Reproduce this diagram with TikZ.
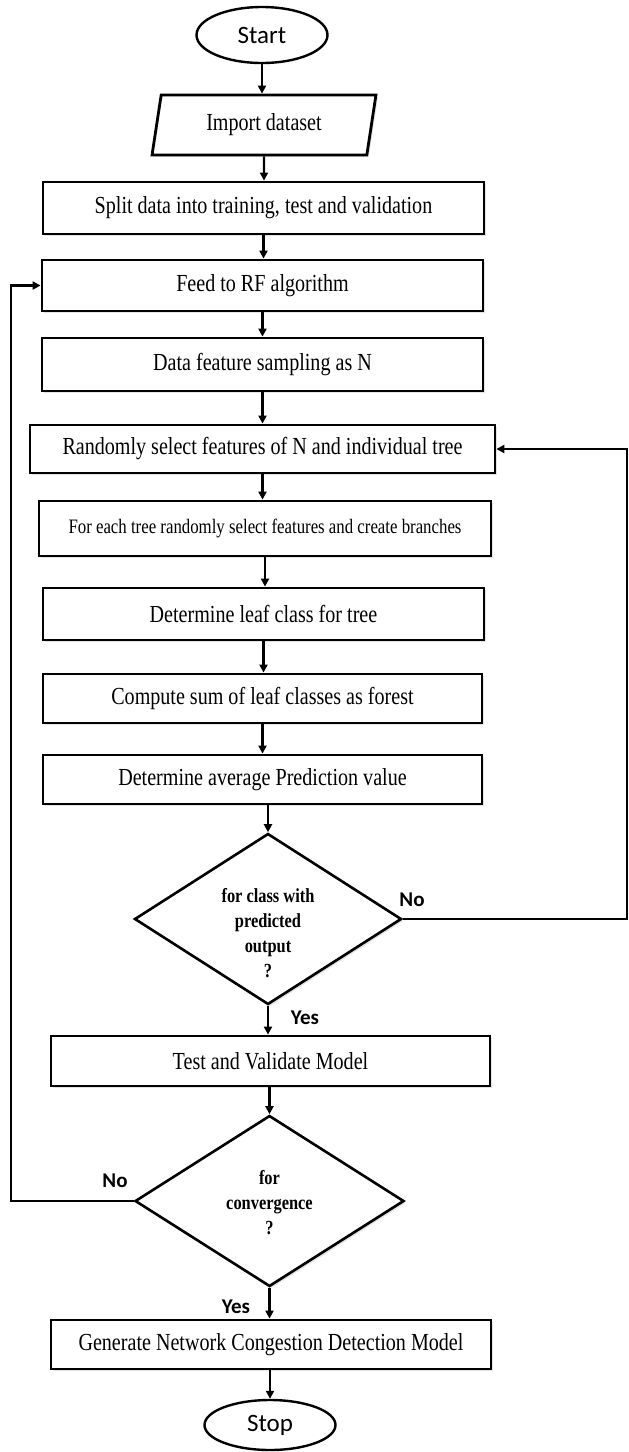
\documentclass[tikz,border=0pt]{standalone}
\usepackage{fontspec}
\setmainfont{Liberation Serif}[FakeStretch=0.82]
\newfontfamily\calfont{Carlito}
\usetikzlibrary{shapes.geometric,arrows.meta,shadows}
\begin{document}
\begin{tikzpicture}[x=1pt,y=-1pt,
  shad/.style={drop shadow={shadow xshift=2pt,shadow yshift=-2pt,opacity=0.22}},
  box/.style={draw=black,line width=2.8pt,fill=white,inner sep=0pt,shad,
    font=\fontsize{24.5}{28}\selectfont},
  term/.style={ellipse,draw=black,line width=2.4pt,fill=white,inner sep=0pt,
    font=\calfont\fontsize{25}{28}\selectfont},
  dec/.style={diamond,draw=black,line width=2.6pt,fill=white,inner sep=0pt,shad,aspect=1.56},
  dtext/.style={align=center,font=\bfseries\fontsize{20}{25}\selectfont,inner sep=0pt},
  lab/.style={font=\calfont\bfseries\fontsize{21}{24}\selectfont,inner sep=0pt},
  arr/.style={line width=2.1pt,-{Triangle[length=8pt,width=8pt]}},
  loop/.style={line width=2.5pt,-{Triangle[length=8pt,width=8pt]}}]
\useasboundingbox (0,0) rectangle (629,1452);
\node[term,minimum width=131pt,minimum height=56pt] (start) at (262,35) {Start};
\node[box,trapezium,trapezium left angle=77,trapezium right angle=103,trapezium stretches=true,
  minimum width=224pt,minimum height=60pt] (import) at (264,125) {Import dataset};
\node[box,minimum width=441pt,minimum height=52pt] (split) at (263.5,208) {Split data into training, test and validation};
\node[box,minimum width=441pt,minimum height=51pt] (feed) at (262.5,285.5) {Feed to RF algorithm};
\node[box,minimum width=441pt,minimum height=53pt] (data) at (262.5,364.5) {Data feature sampling as N};
\node[box,minimum width=465pt,minimum height=48pt] (rand) at (262.5,449) {Randomly select features of N and individual tree};
\node[box,minimum width=452pt,minimum height=55pt,font=\fontsize{20.5}{24}\selectfont] (each) at (265,528.5) {For each tree randomly select features and create branches};
\node[box,minimum width=441pt,minimum height=52pt] (leaf) at (263.5,614) {Determine leaf class for tree};
\node[box,minimum width=439pt,minimum height=49pt] (sum) at (262.5,698.5) {Compute sum of leaf classes as forest};
\node[box,minimum width=439pt,minimum height=49pt] (avg) at (262.5,779.5) {Determine average Prediction value};
\node[dec,minimum width=267pt,minimum height=171pt] (d1) at (268,919) {};
\node[dtext] (d1t) at ([yshift=-14pt]d1.center) {for class with\\predicted\\output\\?};
\node[box,minimum width=439pt,minimum height=50pt] (test) at (270.5,1061) {Test and Validate Model};
\node[dec,minimum width=269pt,minimum height=171pt] (d2) at (269.5,1201) {};
\node[dtext] (d2t) at ([yshift=-2pt]d2.center) {for\\convergence\\?};
\node[box,minimum width=440pt,minimum height=49pt] (gen) at (271,1344.5) {Generate Network Congestion Detection Model};
\node[term,minimum width=131pt,minimum height=50pt] (stop) at (270,1425) {Stop};
\node[lab] (no1) at (412,900) {No};
\node[lab] (yes1) at (305,1018) {Yes};
\node[lab] (no2) at (115,1181) {No};
\node[lab] (yes2) at (236,1307) {Yes};
\coordinate (rc) at (627,0);
\coordinate (lc) at (11,0);
\draw[arr] (start) -- (start |- import.north);
\draw[arr] (import) -- (import |- split.north);
\draw[arr] (split) -- (split |- feed.north);
\draw[arr] (feed) -- (feed |- data.north);
\draw[arr] (data) -- (data |- rand.north);
\draw[arr] (rand) -- (rand |- each.north);
\draw[arr] (each) -- (each |- leaf.north);
\draw[arr] (leaf) -- (leaf |- sum.north);
\draw[arr] (sum) -- (sum |- avg.north);
\draw[arr] (avg.south -| d1) -- (d1.north);
\draw[arr] (d1.south) -- (d1.south |- test.north);
\draw[arr] (test.south -| d2) -- (d2.north);
\draw[arr] (d2.south) -- (d2.south |- gen.north);
\draw[arr] (gen.south -| stop) -- (stop.north);
\draw[loop] (d1.east) -- (d1.east -| rc) -- (rc |- rand.east) -- (rand.east);
\draw[loop] (d2.west) -- (d2.west -| lc) -- (lc |- feed.west) -- (feed.west);
\end{tikzpicture}
\end{document}
